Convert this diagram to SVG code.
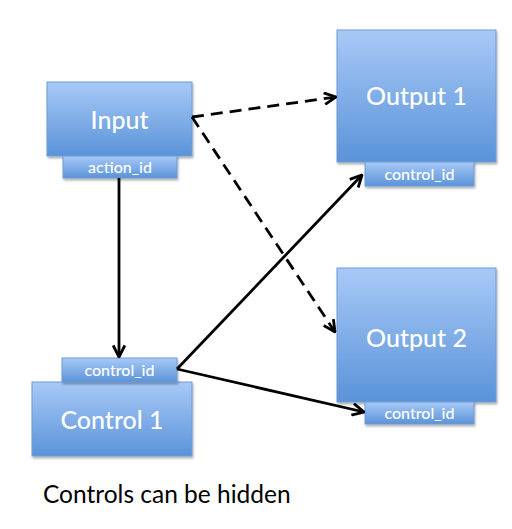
<svg xmlns="http://www.w3.org/2000/svg" width="512" height="529" viewBox="0 0 512 529">
<defs>
<linearGradient id="g" x1="0" y1="0" x2="0" y2="1">
<stop offset="0" stop-color="#a8c9f7"/>
<stop offset="1" stop-color="#5a93d9"/>
</linearGradient>
<filter id="sh" x="-10%" y="-10%" width="125%" height="130%">
<feDropShadow dx="1" dy="2" stdDeviation="1.2" flood-color="#000" flood-opacity="0.3"/>
</filter>
<marker id="arr" viewBox="0 0 12 12" refX="11" refY="6" markerWidth="14" markerHeight="14" markerUnits="userSpaceOnUse" orient="auto">
<path d="M1,1 L11,6 L1,11" fill="none" stroke="#000" stroke-width="2.4"/>
</marker>
<style>
.box{fill:url(#g);stroke:#6f9bd6;stroke-width:1;filter:url(#sh)}
.big{font-family:Lato,"Open Sans",sans-serif;font-size:25px;font-weight:500;fill:#fff;text-anchor:middle}
.small{font-family:Lato,"Open Sans",sans-serif;font-size:16px;font-weight:500;fill:#fff;text-anchor:middle}
.c{stroke:#000;stroke-width:2.8;fill:none;marker-end:url(#arr)}
.d{stroke-dasharray:12 7}
</style>
</defs>
<rect width="512" height="529" fill="#fff"/>
<g id="input">
<rect class="box" x="47" y="82" width="145" height="74"/>
<text class="big" x="119.5" y="129">Input</text>
<rect class="box" x="63" y="156" width="114" height="22"/>
<text class="small" x="120" y="173">action_id</text>
</g>
<g id="output1">
<rect class="box" x="337" y="30" width="159" height="132"/>
<text class="big" x="416.5" y="105">Output 1</text>
<rect class="box" x="365" y="162" width="109" height="24"/>
<text class="small" x="419.5" y="180">control_id</text>
</g>
<g id="output2">
<rect class="box" x="337" y="268" width="159" height="134"/>
<text class="big" x="416.5" y="347">Output 2</text>
<rect class="box" x="365" y="402" width="109" height="22"/>
<text class="small" x="419.5" y="419">control_id</text>
</g>
<g id="control1">
<rect class="box" x="32" y="382" width="160" height="74"/>
<text class="big" x="112" y="429">Control 1</text>
<rect class="box" x="62" y="358" width="115" height="24"/>
<text class="small" x="119.5" y="376">control_id</text>
</g>
<g id="connectors">
<line class="c d" x1="192" y1="117" x2="336" y2="97"/>
<line class="c d" x1="192" y1="117" x2="335" y2="332"/>
<line class="c" x1="119" y1="178" x2="119" y2="357"/>
<line class="c" x1="177" y1="369" x2="362" y2="175"/>
<line class="c" x1="177" y1="369" x2="364" y2="412"/>
</g>
<text x="43" y="503" font-family="Lato,'Open Sans',sans-serif" font-size="24.5" fill="#000">Controls can be hidden</text>
</svg>
